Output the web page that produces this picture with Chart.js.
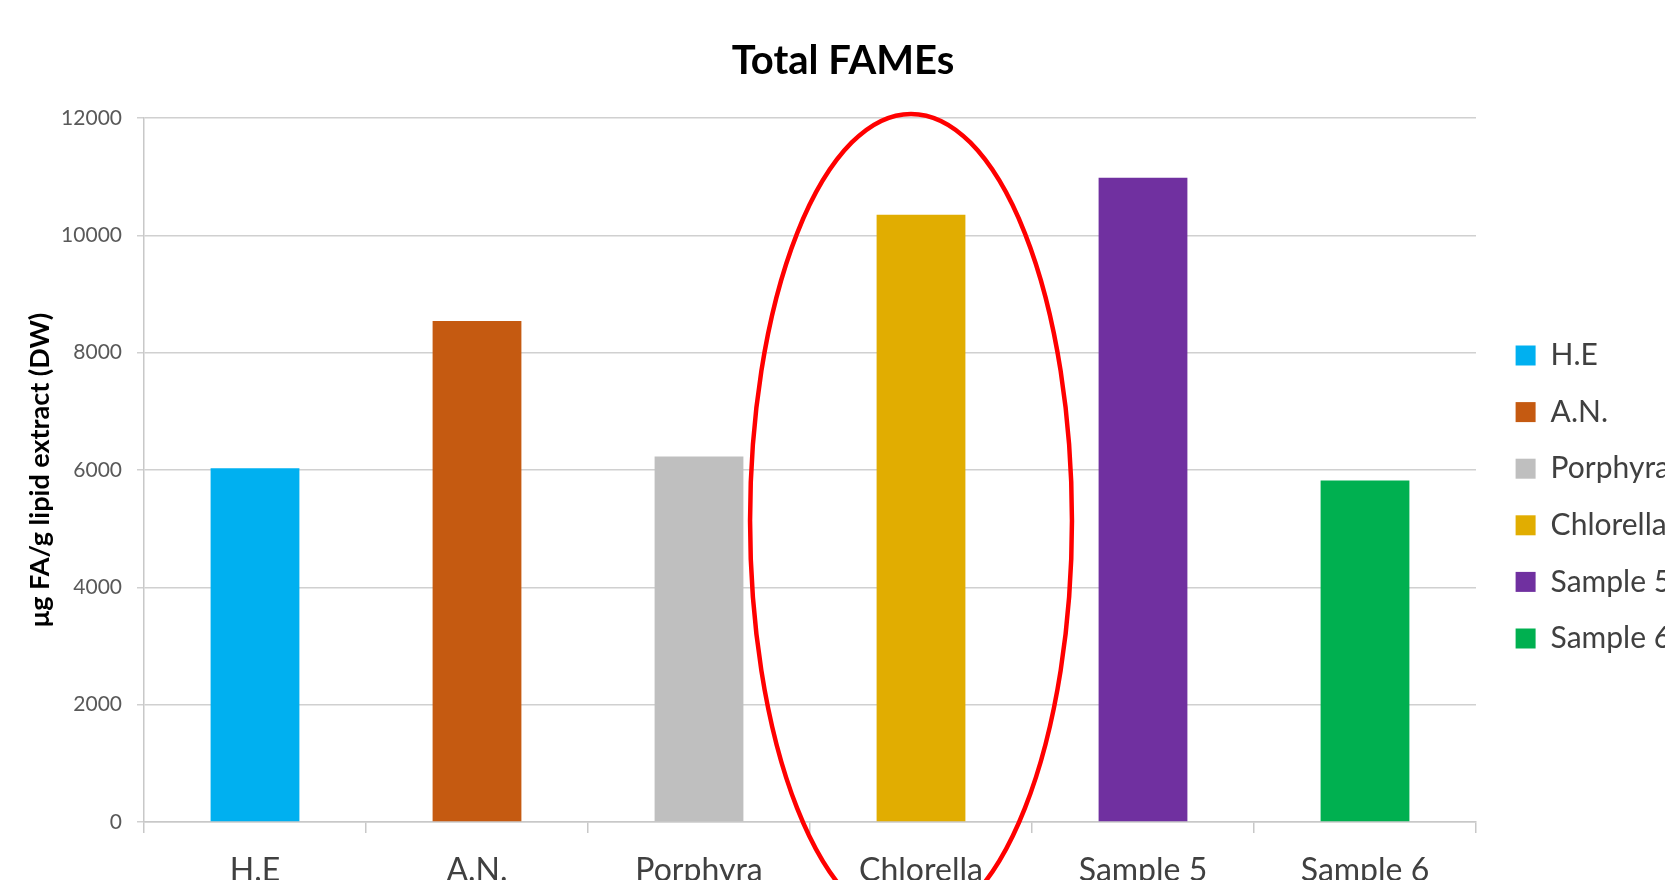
<!DOCTYPE html>
<html>
<head>
<meta charset="utf-8">
<title>Total FAMEs</title>
<script src="https://cdn.jsdelivr.net/npm/chart.js@4.4.1/dist/chart.umd.min.js"></script>
<style>
  html, body { margin: 0; padding: 0; background: #fff; overflow: hidden; }
  #wrap { position: relative; width: 1686px; height: 904px; }
</style>
</head>
<body>
<div id="wrap"><canvas id="fames" width="1686" height="904"></canvas></div>
<script>
const categories = ['H.E', 'A.N.', 'Porphyra', 'Chlorella', 'Sample 5', 'Sample 6'];
const totalFames = [6030, 8540, 6230, 10350, 10980, 5820];
const barColors = ['#00b0f0', '#c55a11', '#bfbfbf', '#e1ad01', '#7030a0', '#00b050'];
const yTicks = [0, 2000, 4000, 6000, 8000, 10000, 12000];
// red ring drawn round Chlorella, in axis units (category index / y value)
const ringX = [2.23, 3.68];
const ringY = [-1800, 12070];

const FONT = 'Lato, "Open Sans", sans-serif';

const ringPlugin = {
    id: 'ring',
    afterLayout(chart) {
        // Excel puts the legend a bit further right and lower than Chart.js does
        const lg = chart.legend;
        if (!lg) return;
        lg.left += 13; lg.right += 13;
        lg.top += 45; lg.bottom += 45;
    },
    afterDraw(chart) {
        const {ctx, scales: {x, y}} = chart;
        const x0 = x.getPixelForValue(ringX[0]);
        const x1 = x.getPixelForValue(ringX[1]);
        const y0 = y.getPixelForValue(ringY[1]);
        const y1 = y.getPixelForValue(ringY[0]);
        ctx.save();
        ctx.beginPath();
        ctx.ellipse((x0 + x1) / 2, (y0 + y1) / 2, (x1 - x0) / 2, (y1 - y0) / 2, 0, 0, Math.PI * 2);
        ctx.strokeStyle = '#ff0000';
        ctx.lineWidth = 4.5;
        ctx.stroke();
        ctx.restore();
    },
};

new Chart(document.getElementById('fames'), {
    type: 'bar',
    data: {
        labels: categories,
        datasets: [{
            label: 'Total FAMEs',
            data: totalFames,
            backgroundColor: barColors,
            borderWidth: 0,
            categoryPercentage: 0.4,
            barPercentage: 1,
        }],
    },
    options: {
        responsive: false,
        animation: false,
        layout: { padding: { left: 34, right: 34, top: 0, bottom: 0 } },
        plugins: {
            tooltip: { enabled: false },
            title: {
                display: true,
                text: 'Total FAMEs',
                color: '#000',
                font: { family: FONT, size: 40, weight: 'bold' },
                padding: { top: 37, bottom: 33 },
            },
            legend: {
                position: 'right',
                maxWidth: 176,
                onClick: null,
                labels: {
                    boxWidth: 20,
                    boxHeight: 20,
                    padding: 26.6,
                    color: '#404040',
                    font: { family: FONT, size: 30 },
                    generateLabels: () => categories.map((c, i) => ({
                        text: c,
                        fillStyle: barColors[i],
                        strokeStyle: barColors[i],
                        lineWidth: 0,
                        fontColor: '#404040',
                        index: i,
                    })),
                },
            },
        },
        scales: {
            x: {
                afterFit: scale => { scale.height = 82; },
                grid: {
                    drawOnChartArea: false,
                    drawTicks: true,
                    tickLength: 11,
                    color: '#c8c8c8',
                    lineWidth: 1.5,
                },
                border: { color: '#c8c8c8', width: 1.5 },
                ticks: {
                    color: '#404040',
                    padding: 18,
                    font: { family: FONT, size: 32 },
                    maxRotation: 0,
                },
            },
            y: {
                min: 0,
                max: 12000,
                afterFit: scale => { scale.width = 110; },
                afterBuildTicks: scale => { scale.ticks = yTicks.map(v => ({ value: v })); },
                grid: {
                    color: '#d0d0d0',
                    lineWidth: 1.5,
                    tickLength: 7,
                },
                border: { color: '#c8c8c8', width: 1.5 },
                ticks: {
                    color: '#595959',
                    padding: 15,
                    font: { family: FONT, size: 21 },
                    callback: v => String(v),
                },
                title: {
                    display: true,
                    text: 'μg FA/g lipid extract (DW)',
                    color: '#000',
                    font: { family: FONT, size: 27, weight: 'bold', lineHeight: 1 },
                    padding: { top: -7, bottom: 0 },
                },
            },
        },
    },
    plugins: [ringPlugin],
});
</script>
</body>
</html>
